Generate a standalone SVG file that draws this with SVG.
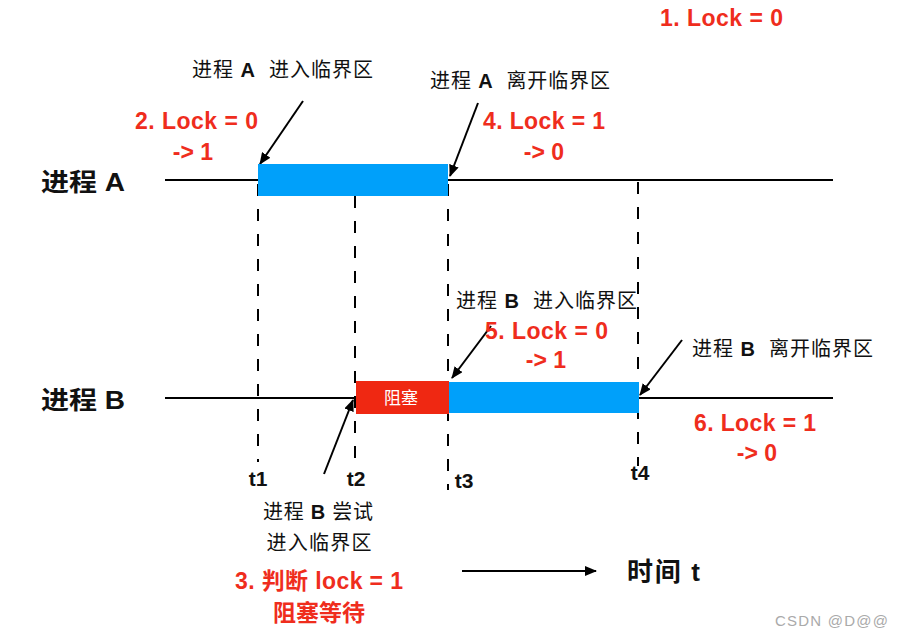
<svg xmlns="http://www.w3.org/2000/svg" width="904" height="638" viewBox="0 0 904 638">
<defs>
<marker id="ah" viewBox="0 0 12 10" refX="11" refY="5" markerWidth="12" markerHeight="10" markerUnits="userSpaceOnUse" orient="auto">
<path d="M0,0 L12,5 L0,10 z" fill="#000"/>
</marker>
</defs>
<style>
text{font-family:"Liberation Sans","Noto Sans CJK SC",sans-serif;}
.red{fill:#ef2d1d;font-weight:bold;font-size:23px;}
.lbl{fill:#111;font-size:20px;}
.big{fill:#111;font-size:25px;font-weight:bold;}
.t{fill:#111;font-size:21px;font-weight:bold;text-anchor:middle;}
.tl{stroke:#000;stroke-width:2;fill:none;}
.dash{stroke:#000;stroke-width:2;stroke-dasharray:12 13;fill:none;}
.arr{stroke:#000;stroke-width:2;fill:none;marker-end:url(#ah);}
.mid{text-anchor:middle;}
</style>
<rect width="904" height="638" fill="#fff"/>

<g id="connectors">
<line class="tl" x1="165" y1="180" x2="833" y2="180"/>
<line class="tl" x1="165" y1="398" x2="833" y2="398"/>
<line class="dash" x1="258" y1="184" x2="258" y2="462"/>
<line class="dash" x1="355" y1="196" x2="355" y2="466"/>
<line class="dash" x1="448" y1="184" x2="448" y2="490"/>
<line class="dash" x1="638" y1="182" x2="638" y2="466"/>
<line class="arr" x1="303" y1="101" x2="260" y2="164"/>
<line class="arr" x1="478" y1="103" x2="450" y2="176"/>
<line class="arr" x1="324" y1="474" x2="353" y2="400"/>
<line class="arr" x1="491" y1="326" x2="452" y2="378"/>
<line class="arr" x1="682" y1="340" x2="640" y2="395"/>
<line class="arr" x1="462" y1="571" x2="596" y2="571"/>
</g>

<g id="barA"><rect x="258" y="164" width="190" height="32" fill="#00a0fa"/></g>
<g id="block"><rect x="356" y="381" width="93" height="33" fill="#ef2812"/>
<text x="401" y="404" class="mid" style="fill:#fff;font-size:17px">阻塞</text></g>
<g id="barB"><rect x="449" y="382" width="190" height="31" fill="#00a0fa"/></g>

<g id="procA"><text x="41" y="191" class="big" textLength="84" lengthAdjust="spacingAndGlyphs">进程 A</text></g>
<g id="procB"><text x="41" y="409" class="big" textLength="84" lengthAdjust="spacingAndGlyphs">进程 B</text></g>

<g id="l1"><text x="660" y="26" class="red" textLength="123">1. Lock = 0</text></g>
<g id="aEnter"><text x="192" y="77" class="lbl" textLength="181">进程 <tspan font-weight="bold">A</tspan>&#160; 进入临界区</text></g>
<g id="aLeave"><text x="430" y="88" class="lbl" textLength="180">进程 <tspan font-weight="bold">A</tspan>&#160; 离开临界区</text></g>
<g id="l2"><text x="135" y="129" class="red" textLength="123">2. Lock = 0</text>
<text x="193" y="160" class="red mid">-&gt; 1</text></g>
<g id="l4"><text x="483" y="129" class="red" textLength="122">4. Lock = 1</text>
<text x="544" y="160" class="red mid">-&gt; 0</text></g>
<g id="bEnter"><text x="456" y="308" class="lbl" textLength="181">进程 <tspan font-weight="bold">B</tspan>&#160; 进入临界区</text></g>
<g id="l5"><text x="485" y="339" class="red" textLength="123">5. Lock = 0</text>
<text x="546" y="368" class="red mid">-&gt; 1</text></g>
<g id="bLeave"><text x="692" y="356" class="lbl" textLength="181">进程 <tspan font-weight="bold">B</tspan>&#160; 离开临界区</text></g>
<g id="l6"><text x="694" y="431" class="red" textLength="122">6. Lock = 1</text>
<text x="757" y="461" class="red mid">-&gt; 0</text></g>

<g id="t1"><text x="258" y="486" class="t">t1</text></g>
<g id="t2"><text x="356" y="486" class="t">t2</text></g>
<g id="t3"><text x="464" y="488" class="t">t3</text></g>
<g id="t4"><text x="640" y="480" class="t">t4</text></g>

<g id="bTry"><text x="318" y="519" class="lbl mid" textLength="110">进程 <tspan font-weight="bold">B</tspan> 尝试</text>
<text x="319" y="550" class="lbl mid" textLength="105">进入临界区</text></g>
<g id="l3"><text x="235" y="589" class="red" textLength="168">3. 判断 lock = 1</text>
<text x="319" y="621" class="red mid">阻塞等待</text></g>
<g id="time"><text x="627" y="581" class="big" style="font-size:26px" textLength="73">时间 t</text></g>
<g id="wm"><text x="775" y="626" style="fill:#aaa;font-size:15px" textLength="113">CSDN @D@@</text></g>
</svg>
